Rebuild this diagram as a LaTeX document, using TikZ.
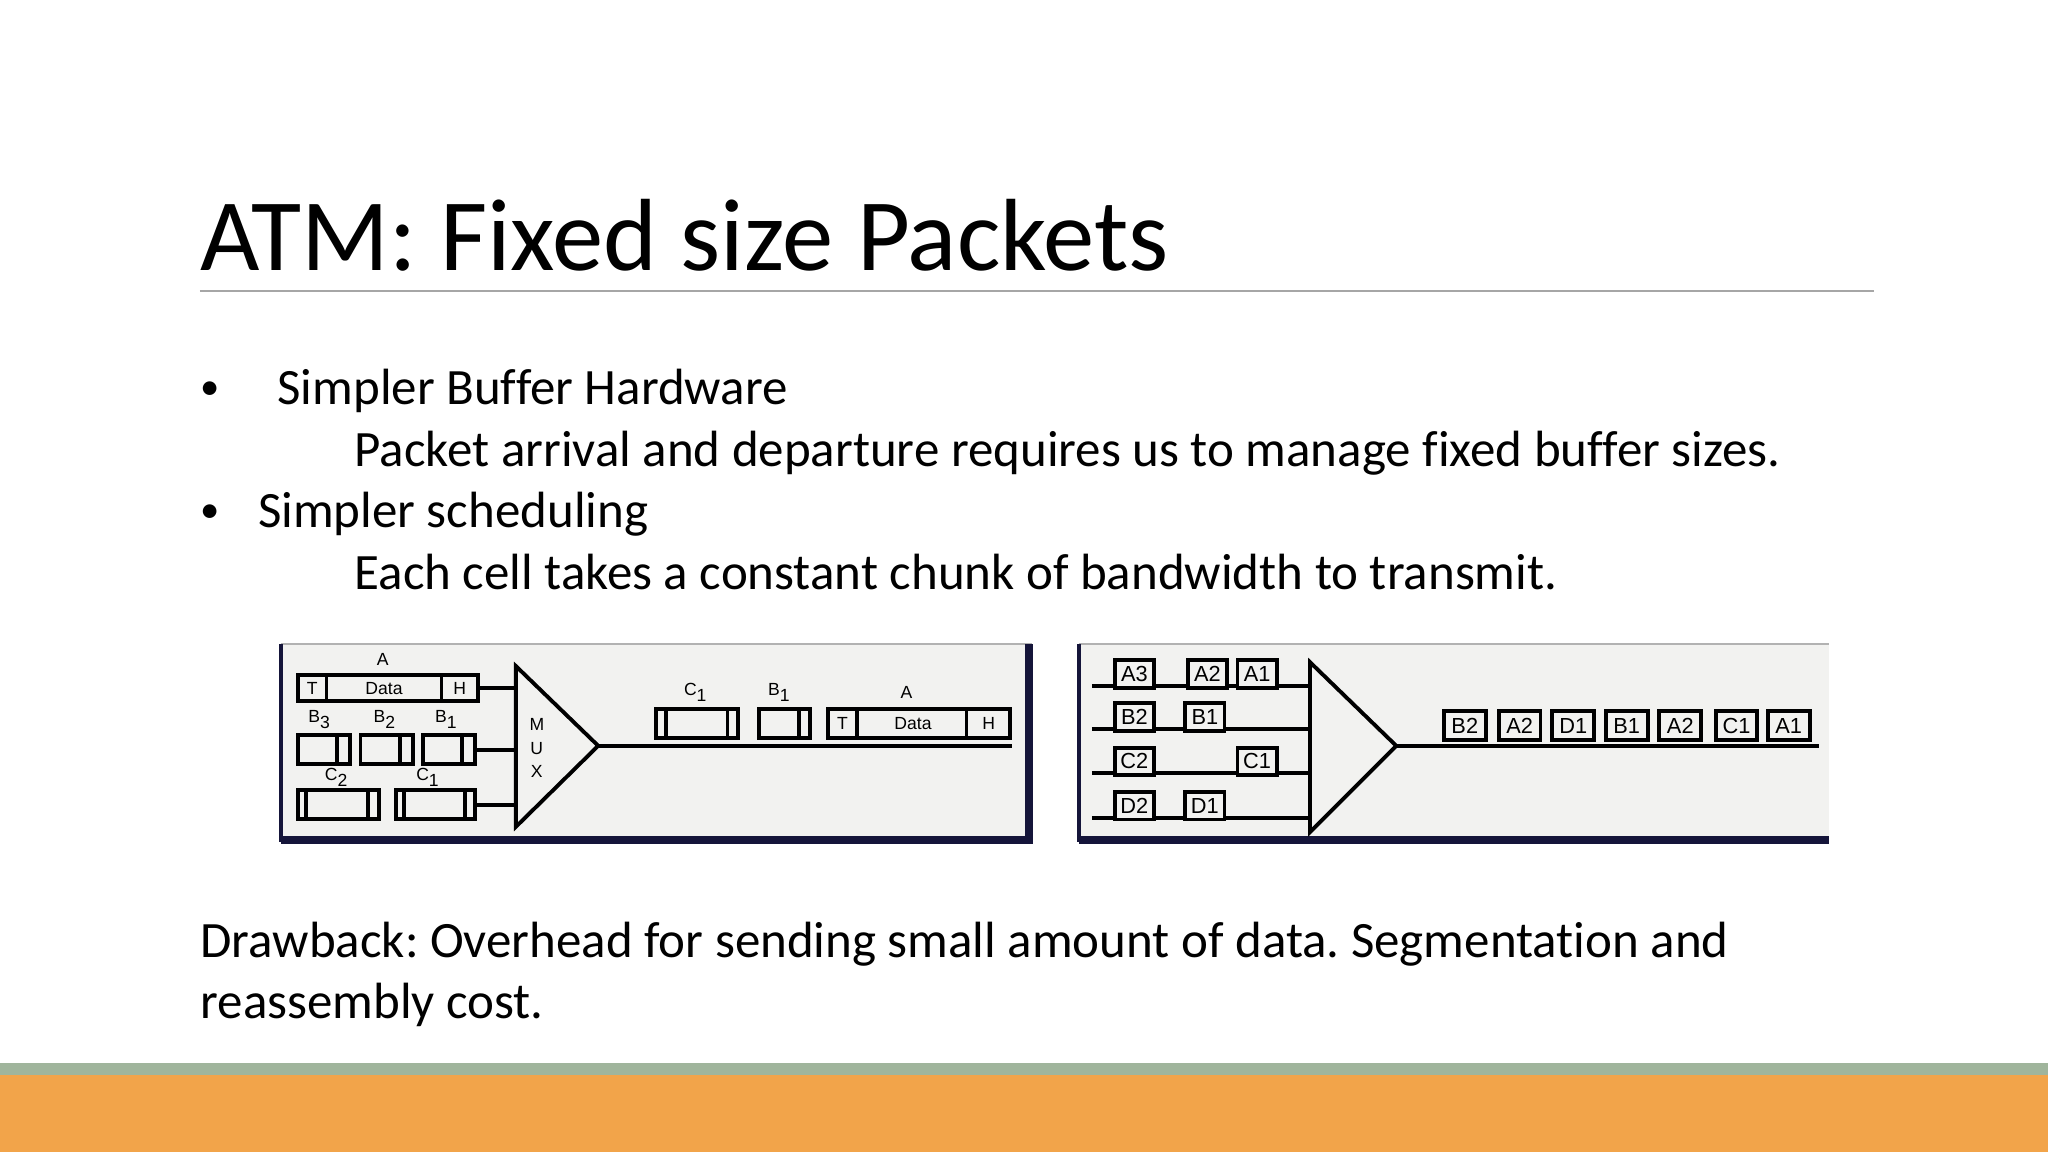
\documentclass[tikz,border=0pt]{standalone}
\usepackage{fontspec}
\setmainfont{Carlito}[Ligatures=NoCommon]
\newfontfamily\dfont{Liberation Sans}
\definecolor{orng}{HTML}{F2A44A}
\definecolor{grn}{HTML}{A0B59C}
\definecolor{panel}{HTML}{F2F2F0}
\definecolor{navy}{HTML}{15153A}
\frenchspacing
\begin{document}
\begin{tikzpicture}[x=0.01306cm,y=-0.01306cm,
  txt/.style={anchor=base west,inner sep=0,font=\fontsize{14.5}{16}\selectfont},
  lb/.style={inner sep=0,font=\dfont\fontsize{5}{6}\selectfont},
  lb2/.style={inner sep=0,font=\dfont\fontsize{6.2}{7}\selectfont},
  ln/.style={line width=1.1pt,black},
  pk/.style={line width=1.1pt,draw=black,fill=panel}]
\useasboundingbox (0,0) rectangle (1568,882);
\fill[white] (0,0) rectangle (1568,882);
% title
\node[anchor=base west,inner sep=0,font=\fontsize{29.2}{34}\selectfont] (title) at (153,207) {ATM: Fixed size Packets};
\draw[gray!70,line width=0.6pt] (153,223) -- (1435,223);
% bullets
\node[txt,font=\fontsize{11}{12}\selectfont] (b1) at (153,306) {•};
\node[txt] (t1) at (212,310) {Simpler Buffer Hardware};
\node[txt] (t2) at (271,357) {Packet arrival and departure requires us to manage fixed buffer sizes.};
\node[txt,font=\fontsize{11}{12}\selectfont] (b2) at (153,400) {•};
\node[txt] (t3) at (197,404) {Simpler scheduling};
\node[txt] (t4) at (271,451) {Each cell takes a constant chunk of bandwidth to transmit.};
\node[txt] (d1) at (153,733) {Drawback: Overhead for sending small amount of data. Segmentation and};
\node[txt] (d2) at (153,780) {reassembly cost.};
% bottom bars
\fill[grn] (0,814) rectangle (1568,823);
\fill[orng] (0,823) rectangle (1568,882);
% ---------- left panel
\fill[panel] (215,493) rectangle (790,645);
\draw[gray!60,line width=0.5pt] (215,493) -- (790,493);
\draw[navy,line width=1pt] (215,493) -- (215,645);
\draw[navy,line width=2.2pt] (215,643) -- (788,643) -- (788,493);
% input A
\node[lb] (la) at (293,505) {A};
\draw[pk] (228,517) rectangle (366,537);
\draw[ln] (250,517) -- (250,537) (338,517) -- (338,537);
\node[lb] (lt) at (239,527) {T};
\node[lb] (ld) at (294,527) {Data};
\node[lb] (lh) at (352,527) {H};
\draw[ln] (366,527) -- (395,527);
% B row
\node[lb] (lb3) at (245,551) {B\textsubscript{3}};
\node[lb] (lb2) at (295,551) {B\textsubscript{2}};
\node[lb] (lb1) at (342,551) {B\textsubscript{1}};
\draw[pk] (228,563) rectangle (268,585); \draw[ln] (258,563) -- (258,585);
\draw[pk] (276,563) rectangle (316,585); \draw[ln] (306,563) -- (306,585);
\draw[pk] (324,563) rectangle (364,585); \draw[ln] (354,563) -- (354,585);
\draw[ln] (364,574) -- (395,574);
% C row
\node[lb] (lc2) at (258,595) {C\textsubscript{2}};
\node[lb] (lc1) at (328,595) {C\textsubscript{1}};
\draw[pk] (228,605) rectangle (290,627); \draw[ln] (234,605) -- (234,627) (282,605) -- (282,627);
\draw[pk] (303,605) rectangle (364,627); \draw[ln] (309,605) -- (309,627) (356,605) -- (356,627);
\draw[ln] (364,616) -- (395,616);
% MUX
\draw[ln,line join=miter] (395,510) -- (458,571) -- (395,633) -- cycle;
\node[lb] (m1) at (411,555) {M};
\node[lb] (m2) at (411,573) {U};
\node[lb] (m3) at (411,591) {X};
\draw[ln] (458,571) -- (775,571);
% output
\node[lb] (oc1) at (533,530) {C\textsubscript{1}};
\draw[pk] (502,543) rectangle (565,565); \draw[ln] (510,543) -- (510,565) (557,543) -- (557,565);
\node[lb] (ob1) at (597,530) {B\textsubscript{1}};
\draw[pk] (581,543) rectangle (620,565); \draw[ln] (612,543) -- (612,565);
\node[lb] (oa) at (694,530) {A};
\draw[pk] (634,543) rectangle (773,565); \draw[ln] (656,543) -- (656,565) (740,543) -- (740,565);
\node[lb] (ot) at (645,554) {T};
\node[lb] (od) at (699,554) {Data};
\node[lb] (oh) at (757,554) {H};
% ---------- right panel
\fill[panel] (826,493) rectangle (1400,645);
\draw[gray!60,line width=0.5pt] (826,493) -- (1400,493);
\draw[navy,line width=1pt] (826,493) -- (826,645);
\draw[navy,line width=2.2pt] (826,643) -- (1400,643);
\foreach \y in {525,558,592,626} \draw[ln] (836,\y) -- (1003,\y);
\draw[ln,line join=miter] (1003,507) -- (1069,571) -- (1003,637) -- cycle;
\draw[ln] (1069,571) -- (1393,571);
\foreach \x/\y/\t/\n in {852/504/A3/ra3,908/504/A2/ra2,946/504/A1/ra1,
  852/537/B2/rb2,906/537/B1/rb1,852/571/C2/rc2,946/571/C1/rc1,852/605/D2/rd2,906/605/D1/rd1}
  \node[pk,lb2,minimum width=30*0.01306cm,minimum height=21*0.01306cm,anchor=north west] (\n) at (\x,\y) {\t};
\foreach \x/\t/\n in {1104/B2/o1,1146/A2/o2,1187/D1/o3,1228/B1/o4,1269/A2/o5,1312/C1/o6,1352/A1/o7}
  \node[pk,lb2,minimum width=32*0.01306cm,minimum height=22*0.01306cm,anchor=north west] (\n) at (\x,543) {\t};
\end{tikzpicture}
\end{document}
